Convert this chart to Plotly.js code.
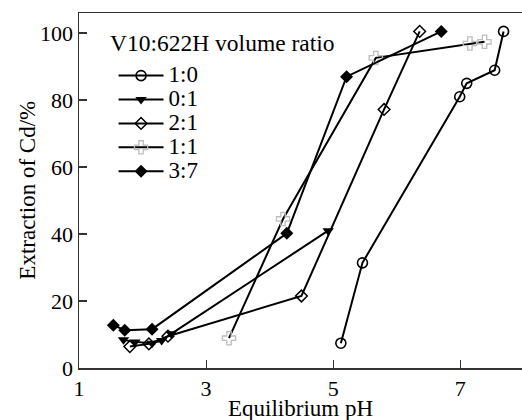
<!DOCTYPE html>
<html>
<head>
<meta charset="utf-8">
<script src="https://cdn.plot.ly/plotly-3.0.1.min.js"></script>
<style>html,body{margin:0;padding:0;background:#fff;}#chart{width:522px;height:420px;}</style>
</head>
<body>
<div id="chart"></div>
<script>
// Series names (V10:622H volume ratio)
const seriesNames = ["1:0", "0:1", "2:1", "1:1", "3:7"];

// Equilibrium pH (x) and extraction of Cd % (y) per series
const ph_1_0 = [5.12, 5.46, 6.99, 7.10, 7.54, 7.68];
const ext_1_0 = [7.4, 31.4, 81.0, 85.0, 88.9, 100.5];

const ph_0_1 = [1.70, 1.88, 2.15, 2.30, 2.45, 4.92];
const ext_0_1 = [8.4, 7.8, 7.4, 8.2, 10.2, 41.0];

const ph_2_1 = [1.80, 2.10, 2.40, 4.50, 5.80, 6.36];
const ext_2_1 = [6.4, 7.2, 9.5, 21.5, 77.2, 100.5];

const ph_1_1 = [3.36, 4.21, 5.67, 7.15, 7.38];
const ext_1_1 = [8.9, 44.5, 92.6, 96.9, 97.4];

const ph_3_7 = [1.54, 1.72, 2.15, 4.27, 5.21, 6.70];
const ext_3_7 = [12.8, 11.3, 11.6, 40.2, 87.0, 100.5];

const xTicks = [1, 3, 5, 7];
const yTicks = [0, 20, 40, 60, 80, 100];
const xTitle = "Equilibrium pH";
const yTitle = "Extraction of Cd/%";
const legendTitle = "V10:622H volume ratio";

const FONT = "'Liberation Serif', 'Times New Roman', Times, 'DejaVu Serif', serif";
const lineStyle = {color: "#000", width: 2};
const nm = s => '<span style="font-size:23px">' + s + '</span>';

const traces = [
  {x: ph_1_0, y: ext_1_0, name: nm(seriesNames[0]), mode: "lines+markers", line: lineStyle,
   marker: {symbol: "circle-open", size: 10, color: "#000", line: {width: 1.6, color: "#000"}}},
  {x: ph_0_1, y: ext_0_1, name: nm(seriesNames[1]), mode: "lines+markers", line: lineStyle,
   marker: {symbol: "triangle-down", size: 10, color: "#000"}},
  {x: ph_2_1, y: ext_2_1, name: nm(seriesNames[2]), mode: "lines+markers", line: lineStyle,
   marker: {symbol: "diamond-open", size: 9, color: "#000", line: {width: 1.5, color: "#000"}}},
  {x: ph_1_1, y: ext_1_1, name: nm(seriesNames[3]), mode: "lines+markers", line: lineStyle,
   marker: {symbol: "cross-open", size: 11, color: "#bdbdbd", line: {width: 1.3, color: "#bdbdbd"}}},
  {x: ph_3_7, y: ext_3_7, name: nm(seriesNames[4]), mode: "lines+markers", line: lineStyle,
   marker: {symbol: "diamond", size: 10, color: "#000"}}
];

const layout = {
  width: 522, height: 420,
  margin: {l: 79, r: 0, t: 13, b: 52, pad: 0},
  paper_bgcolor: "#fff", plot_bgcolor: "#fff",
  font: {family: FONT, size: 22, color: "#000"},
  showlegend: true,
  legend: {
    x: 0.078, y: 0.8715, xanchor: "left", yanchor: "top",
    bgcolor: "rgba(0,0,0,0)", borderwidth: 0,
    font: {family: FONT, size: 16.1, color: "#000"},
    itemwidth: 45, tracegroupgap: 0
  },
  xaxis: {
    range: [1, 7.97], tickvals: xTicks, ticktext: xTicks.map(String),
    ticks: "inside", ticklen: 8, tickwidth: 1.2, tickcolor: "#333",
    showline: true, linecolor: "#333", linewidth: 1.5, mirror: true,
    showgrid: false, zeroline: false,
    tickfont: {family: FONT, size: 22, color: "#000"}
  },
  yaxis: {
    range: [0, 106], tickvals: yTicks, ticktext: yTicks.map(String),
    ticks: "inside", ticklen: 8, tickwidth: 1.2, tickcolor: "#333",
    showline: true, linecolor: "#333", linewidth: 1.5, mirror: false,
    showgrid: false, zeroline: false,
    tickfont: {family: FONT, size: 22, color: "#000"}
  },
  annotations: [
    {text: legendTitle, xref: "paper", yref: "paper", x: 0.0655, y: (368 - 43) / 355, xanchor: "left", yanchor: "middle",
     showarrow: false, font: {family: FONT, size: 23.5, color: "#000"}},
    {text: xTitle, xref: "paper", yref: "paper", x: 0.5, y: -0.114, xanchor: "center", yanchor: "middle",
     showarrow: false, font: {family: FONT, size: 23, color: "#000"}},
    {text: yTitle, xref: "paper", yref: "paper", x: -0.117, y: 0.5, xanchor: "center", yanchor: "middle",
     textangle: -90, showarrow: false, font: {family: FONT, size: 23, color: "#000"}}
  ]
};

Plotly.newPlot("chart", traces, layout, {displayModeBar: false, staticPlot: true});
</script>
</body>
</html>
